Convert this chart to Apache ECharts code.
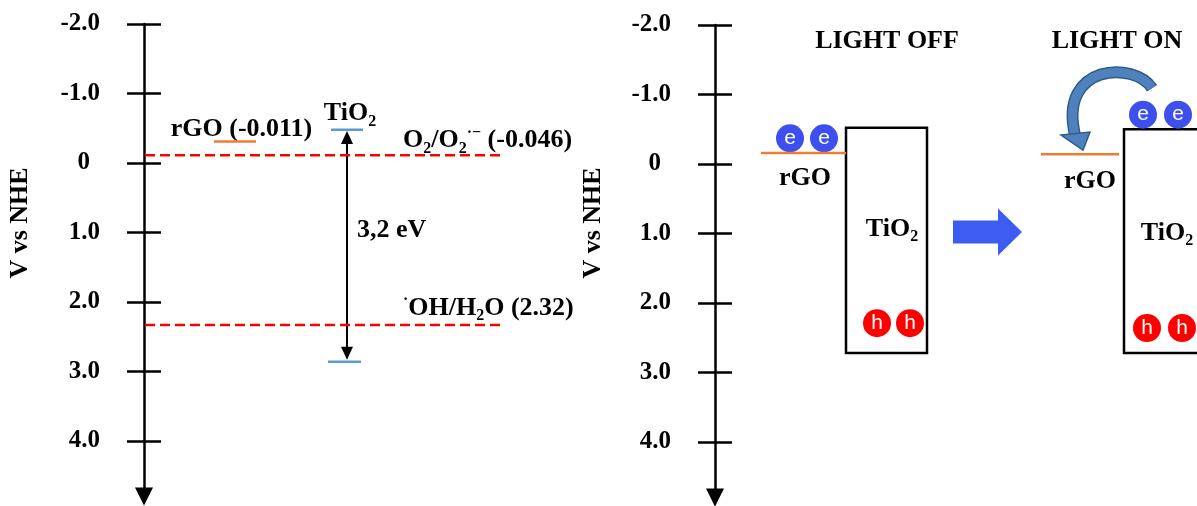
<!DOCTYPE html>
<html><head><meta charset="utf-8">
<script src="https://cdn.jsdelivr.net/npm/echarts@6/dist/echarts.min.js"></script>
<style>html,body{margin:0;padding:0;background:#fff}#c{width:1197px;height:506px}</style>
</head><body><div id="c"></div>
<script>
// ---------- DATA ----------
const yTicks = [-2, -1, 0, 1, 2, 3, 4];
const tickLabels = ['-2.0', '-1.0', '0', '1.0', '2.0', '3.0', '4.0'];
const axisTitle = 'V vs NHE';

// Left panel: energy levels (V vs NHE, as drawn) with x extent in schematic units
const redoxValues = [-0.11, 2.33];            // O2/O2·− , ·OH/H2O
const redoxSpan = [1, 359];
const rgoLevel = -0.31, rgoSpan = [70, 112];
const tio2CB = -0.48, tio2CBSpan = [187, 219];
const tio2VB = 2.86, tio2VBSpan = [184, 217];
const gapArrow = [203, -0.46, 2.83];          // x, top tip, bottom tip
const leftTexts = [
  '{n|rGO (-0.011)}',
  '{n|TiO}{s|2}',
  '{n|O}{s|2}{n|/O}{s|2}{p|·−}{n| (-0.046)}',
  '{n|3,2 eV}',
  '{p|·}{n|OH/H}{s|2}{n|O (2.32)}'
];
const leftTextX = [97.5, 206, 259, 213, 259];
const leftTextY = [-0.49, -0.71, -0.32, 0.97, 2.09];
const leftTextAlign = ['center', 'center', 'left', 'left', 'left'];

// Right panel: LIGHT OFF / LIGHT ON schematics
const panelTitles = ['LIGHT OFF', 'LIGHT ON'];
const panelTitleX = [172, 402], panelTitleY = [-1.76, -1.76];
const tio2Boxes = [[131, 212, -0.52, 2.72], [409, 490, -0.50, 2.72]];
const rgoRight = [[46, 131, -0.16], [326, 404, -0.14]];
const electrons = [[75, -0.37], [109, -0.37], [428, -0.71], [463, -0.71]];
const holes = [[162, 2.29], [195, 2.29], [432, 2.36], [467, 2.36]];
const rightTexts = ['{n|rGO}', '{n|rGO}', '{n|TiO}{s|2}', '{n|TiO}{s|2}'];
const rightTextX = [90, 375, 177, 452];
const rightTextY = [0.21, 0.25, 0.94, 0.99];
const blockArrow = [238, 307, 0.98];
const transferArrow = [437, -1.09, 368, -0.20];   // start x,y -> tip x,y

// ---------- CHART ----------
const SERIF = "'Liberation Serif','Times New Roman',serif";
const FS = 26;
const base = {fontFamily: SERIF, fontWeight: 'bold', fontSize: FS, color: '#000'};
const rich = {
  n: Object.assign({}, base, {lineHeight: 32}),
  s: Object.assign({}, base, {fontSize: 16, verticalAlign: 'bottom', lineHeight: 19}),
  p: Object.assign({}, base, {fontSize: 16, verticalAlign: 'top', lineHeight: 19})
};
const tickFont = {fontFamily: SERIF, fontWeight: 'bold', fontSize: 25, color: '#000'};

function yAxisPair(grid) {
  const common = {
    type: 'value', gridIndex: grid, inverse: true, min: -2, max: 4.8,
    position: 'left', splitLine: {show: false}
  };
  return [
    Object.assign({}, common, {
      axisLine: {show: true, onZero: false, symbol: ['triangle', 'none'], symbolSize: [18, 18],
        lineStyle: {color: '#000', width: 2.5}},
      axisTick: {show: true, inside: false, length: 17, customValues: yTicks,
        lineStyle: {color: '#000', width: 2.5}},
      axisLabel: Object.assign({show: true, margin: 44, customValues: yTicks,
        formatter: v => {
          const t = tickLabels[yTicks.indexOf(Math.round(v))];
          return t === '0' ? '{z|0}' : t;
        },
        rich: {z: Object.assign({}, tickFont, {padding: [0, 10, 0, 0]})}}, tickFont)
    }),
    Object.assign({}, common, {
      axisLine: {show: false, onZero: false},
      axisTick: {show: true, inside: true, length: 17, customValues: yTicks,
        lineStyle: {color: '#000', width: 2.5}},
      axisLabel: {show: false}
    })
  ];
}

function hLine(name, span, y, color, type, g) {
  return {type: 'line', name, xAxisIndex: g, yAxisIndex: g * 2, symbol: 'none', silent: true,
    data: [[span[0], y], [span[1], y]],
    lineStyle: {color, width: 2.5, type}};
}

function textSeries(g, texts, xs, ys, aligns) {
  return {type: 'custom', xAxisIndex: g, yAxisIndex: g * 2, silent: true,
    data: xs.map((x, i) => [x, ys[i]]),
    renderItem: (params, api) => {
      const p = api.coord([api.value(0), api.value(1)]);
      return {type: 'text', x: p[0], y: p[1],
        style: {text: texts[params.dataIndex], rich, align: aligns ? aligns[params.dataIndex] : 'center',
          verticalAlign: 'middle'}};
    }};
}

const option = {
  animation: false,
  backgroundColor: '#fff',
  grid: [
    {left: 144, top: 24, width: 440, height: 472.6},
    {left: 715, top: 25, width: 482, height: 472.6}
  ],
  xAxis: [
    {type: 'value', gridIndex: 0, min: 0, max: 440, show: false},
    {type: 'value', gridIndex: 1, min: 0, max: 482, show: false}
  ],
  yAxis: [].concat(yAxisPair(0), yAxisPair(1)),
  graphic: [0, 1].map(i => ({
    type: 'text', x: [20, 593][i], y: 223, rotation: Math.PI / 2,
    style: {text: axisTitle, fontFamily: SERIF, fontWeight: 'bold', fontSize: FS, fill: '#000',
      align: 'center', verticalAlign: 'middle'}
  })),
  series: [
    hLine('O2/O2-', redoxSpan, redoxValues[0], '#ff0000', [10, 5], 0),
    hLine('OH/H2O', redoxSpan, redoxValues[1], '#ff0000', [10, 5], 0),
    hLine('rGO', rgoSpan, rgoLevel, '#ed7d31', 'solid', 0),
    hLine('TiO2 CB', tio2CBSpan, tio2CB, '#5b9bd5', 'solid', 0),
    hLine('TiO2 VB', tio2VBSpan, tio2VB, '#5b9bd5', 'solid', 0),
    {type: 'custom', xAxisIndex: 0, yAxisIndex: 0, silent: true, data: [gapArrow],
      renderItem: (params, api) => {
        const top = api.coord([api.value(0), api.value(1)]);
        const bot = api.coord([api.value(0), api.value(2)]);
        const hw = 6, hl = 13;
        return {type: 'group', children: [
          {type: 'line', shape: {x1: top[0], y1: top[1] + hl - 1, x2: bot[0], y2: bot[1] - hl + 1},
            style: {stroke: '#000', lineWidth: 2}},
          {type: 'polygon', shape: {points: [[top[0], top[1]], [top[0] - hw, top[1] + hl], [top[0] + hw, top[1] + hl]]},
            style: {fill: '#000'}},
          {type: 'polygon', shape: {points: [[bot[0], bot[1]], [bot[0] - hw, bot[1] - hl], [bot[0] + hw, bot[1] - hl]]},
            style: {fill: '#000'}}
        ]};
      }},
    textSeries(0, leftTexts, leftTextX, leftTextY, leftTextAlign),

    // right panel
    {type: 'custom', xAxisIndex: 1, yAxisIndex: 2, silent: true, data: tio2Boxes,
      renderItem: (params, api) => {
        const p1 = api.coord([api.value(0), api.value(2)]);
        const p2 = api.coord([api.value(1), api.value(3)]);
        return {type: 'rect', shape: {x: p1[0], y: p1[1], width: p2[0] - p1[0], height: p2[1] - p1[1]},
          style: {fill: 'none', stroke: '#000', lineWidth: 2.5}};
      }},
    hLine('rGO off', rgoRight[0].slice(0, 2), rgoRight[0][2], '#ed7d31', 'solid', 1),
    hLine('rGO on', rgoRight[1].slice(0, 2), rgoRight[1][2], '#ed7d31', 'solid', 1),
    {type: 'scatter', xAxisIndex: 1, yAxisIndex: 2, silent: true, data: electrons,
      symbolSize: 28, itemStyle: {color: '#3d50ee', opacity: 1},
      label: {show: true, position: 'inside', formatter: 'e', color: '#fff', fontSize: 21,
        fontFamily: "'Liberation Sans',Arial,sans-serif"}},
    {type: 'scatter', xAxisIndex: 1, yAxisIndex: 2, silent: true, data: holes,
      symbolSize: 28, itemStyle: {color: '#ff0000', opacity: 1},
      label: {show: true, position: 'inside', formatter: 'h', color: '#fff', fontSize: 21,
        fontFamily: "'Liberation Sans',Arial,sans-serif"}},
    {type: 'custom', xAxisIndex: 1, yAxisIndex: 2, silent: true, data: [blockArrow],
      renderItem: (params, api) => {
        const a = api.coord([api.value(0), api.value(2)]);
        const b = api.coord([api.value(1), api.value(2)]);
        const hl = 24, sh = 11.5, hh = 23.5, y = a[1];
        return {type: 'polygon', shape: {points: [
          [a[0], y - sh], [b[0] - hl, y - sh], [b[0] - hl, y - hh], [b[0], y],
          [b[0] - hl, y + hh], [b[0] - hl, y + sh], [a[0], y + sh]]},
          style: {fill: '#3d5cf2'}};
      }},
    {type: 'custom', xAxisIndex: 1, yAxisIndex: 2, silent: true, data: [transferArrow],
      renderItem: (params, api) => {
        const s = api.coord([api.value(0), api.value(1)]);
        const t = api.coord([api.value(2), api.value(3)]);
        const b = [t[0] - 8, t[1] - 15];
        const c1 = [s[0] - 17, s[1] - 27], c2 = [t[0] - 25, t[1] - 87];
        const d = `M${s[0]},${s[1]} C${c1[0]},${c1[1]} ${c2[0]},${c2[1]} ${b[0]},${b[1]}`;
        return {type: 'group', children: [
          {type: 'path', shape: {pathData: d}, style: {fill: 'none', stroke: '#2e5c8a', lineWidth: 12}},
          {type: 'path', shape: {pathData: d}, style: {fill: 'none', stroke: '#4f81bd', lineWidth: 9}},
          {type: 'polygon', shape: {points: [[t[0] - 22, t[1] - 15], [t[0] + 7, t[1] - 18], [t[0], t[1]]]},
            style: {fill: '#4f81bd', stroke: '#2e5c8a', lineWidth: 1.5}}
        ]};
      }},
    textSeries(1, panelTitles.map(t => '{n|' + t + '}'), panelTitleX, panelTitleY, null),
    textSeries(1, rightTexts, rightTextX, rightTextY, null)
  ]
};

const chart = echarts.init(document.getElementById('c'), null, {renderer: 'canvas'});
chart.setOption(option);
</script>
</body></html>
